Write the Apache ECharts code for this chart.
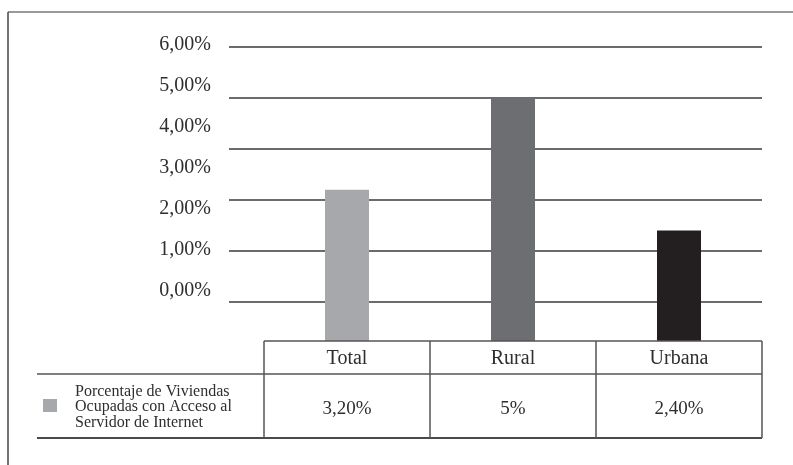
<!DOCTYPE html>
<html>
<head>
<meta charset="utf-8">
<script src="https://cdn.jsdelivr.net/npm/echarts@6/dist/echarts.min.js"></script>
<style>html,body{margin:0;padding:0;background:#fff}#c{width:793px;height:465px}</style>
</head>
<body>
<div id="c"></div>
<script>
// ---- data ----
const categories = ['Total', 'Rural', 'Urbana'];
const values = [3.2, 5, 2.4];
const valueLabels = ['3,20%', '5%', '2,40%'];
const yTickLabels = ['0,00%', '1,00%', '2,00%', '3,00%', '4,00%', '5,00%', '6,00%'];
const seriesName = 'Porcentaje de Viviendas\nOcupadas con Acceso al\nServidor de Internet';

// ---- style ----
const barColors = ['#a7a8ab', '#6d6e71', '#231f20'];
const FONT = '"Liberation Serif", "DejaVu Serif", serif';
const TXT = '#2e2e2e';
const LINE = '#555';

const chart = echarts.init(document.getElementById('c'), null, { renderer: 'canvas' });

// table geometry
const tLeft = 264, tRight = 762, tTop = 341, tMid = 374, tBot = 438, rowLeft = 37;
const colW = (tRight - tLeft) / categories.length;

const graphics = [];
// outer frame
graphics.push({ type: 'line', z: 60, shape: { x1: 8, y1: 12, x2: 793, y2: 12 }, style: { stroke: '#777', lineWidth: 1.5 } });
graphics.push({ type: 'line', z: 60, shape: { x1: 8, y1: 12, x2: 8, y2: 465 }, style: { stroke: '#444', lineWidth: 1.5 } });
// header fill (bars sit behind the table)
graphics.push({ type: 'rect', z: 50, shape: { x: tLeft, y: tTop, width: tRight - tLeft, height: tMid - tTop }, style: { fill: '#fff' } });
// horizontal lines
graphics.push({ type: 'line', z: 60, shape: { x1: tLeft, y1: tTop, x2: tRight, y2: tTop }, style: { stroke: LINE, lineWidth: 1.5 } });
graphics.push({ type: 'line', z: 60, shape: { x1: rowLeft, y1: tMid, x2: tRight, y2: tMid }, style: { stroke: LINE, lineWidth: 1.5 } });
graphics.push({ type: 'line', z: 60, shape: { x1: rowLeft, y1: tBot, x2: tRight, y2: tBot }, style: { stroke: '#4a4a4a', lineWidth: 2 } });
// vertical lines
for (let i = 0; i <= categories.length; i++) {
  const x = tLeft + colW * i;
  graphics.push({ type: 'line', z: 60, shape: { x1: x, y1: tTop, x2: x, y2: tBot }, style: { stroke: LINE, lineWidth: 1.5 } });
}
// header & value texts
categories.forEach((c, i) => {
  const cx = tLeft + colW * (i + 0.5);
  graphics.push({ type: 'text', z: 70, x: cx, y: 359, style: { text: c, font: '20px ' + FONT, fill: TXT, align: 'center', verticalAlign: 'middle' } });
  graphics.push({ type: 'text', z: 70, x: cx, y: 409, style: { text: valueLabels[i], font: '19px ' + FONT, fill: TXT, align: 'center', verticalAlign: 'middle' } });
});
// legend key
graphics.push({ type: 'rect', z: 70, shape: { x: 43, y: 399, width: 14, height: 13 }, style: { fill: barColors[0] } });
graphics.push({ type: 'text', z: 70, x: 75, y: 407, style: { text: seriesName, font: '16px ' + FONT, fill: TXT, align: 'left', verticalAlign: 'middle', lineHeight: 15.5 } });

const option = {
  backgroundColor: '#fff',
  animation: false,
  grid: [
    { left: 229, right: 31, top: 47, bottom: 112 },   // gridlines
    { left: tLeft, right: 793 - tRight, top: 47, bottom: 112 }, // bars
    { left: 220, right: 31, top: 45, bottom: 174 }    // tick labels
  ],
  xAxis: [
    { gridIndex: 0, type: 'value', min: 0, max: 1, show: false },
    { gridIndex: 1, type: 'category', data: categories, show: false },
    { gridIndex: 2, type: 'value', min: 0, max: 1, show: false }
  ],
  yAxis: [
    { gridIndex: 0, type: 'value', min: 0, max: 6, interval: 1,
      axisLine: { show: false }, axisTick: { show: false }, axisLabel: { show: false },
      splitLine: { show: true, showMinLine: false, lineStyle: { color: '#3a3a3a', width: 1.5 } } },
    { gridIndex: 1, type: 'value', min: 0, max: 6, interval: 1, show: false, splitLine: { show: false } },
    { gridIndex: 2, type: 'category', data: yTickLabels, boundaryGap: false,
      axisLine: { show: false }, axisTick: { show: false }, splitLine: { show: false },
      axisLabel: { show: true, margin: 9, fontSize: 20, fontFamily: FONT, color: TXT } }
  ],
  series: [{
    name: seriesName,
    type: 'bar',
    xAxisIndex: 1, yAxisIndex: 1,
    barWidth: 44,
    z: 2,
    data: values.map((v, i) => ({ value: v, itemStyle: { color: barColors[i] } }))
  }],
  graphic: { elements: graphics }
};
chart.setOption(option);
</script>
</body>
</html>
